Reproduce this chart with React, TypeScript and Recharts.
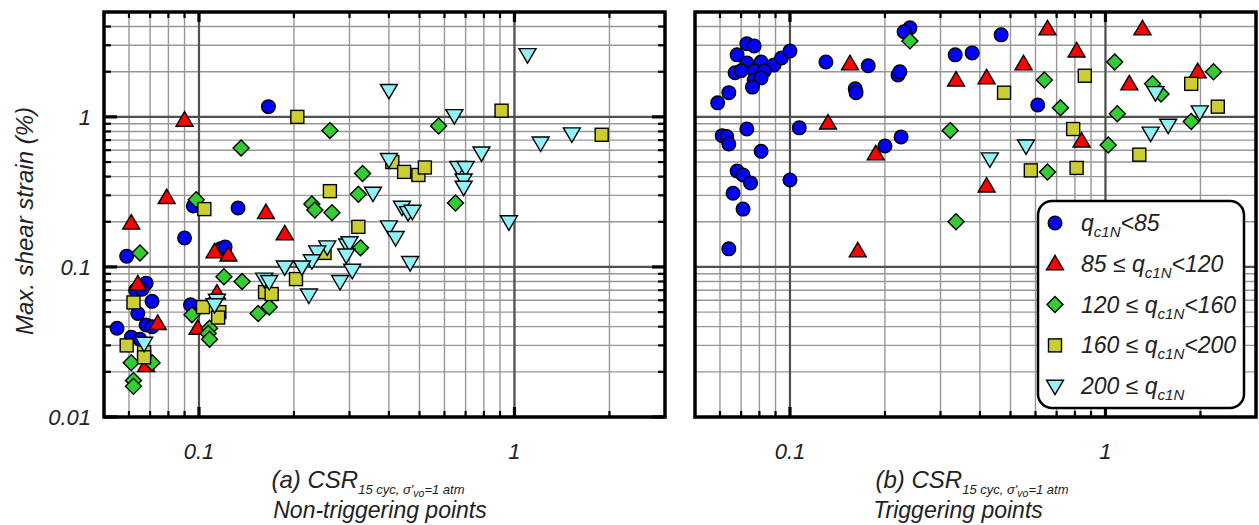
import React from "react";
import {
  CartesianGrid,
  ReferenceLine,
  Scatter,
  ScatterChart,
  XAxis,
  YAxis,
} from "recharts";

type Pair = [number, number];
type Kind = "circle" | "up" | "diamond" | "square" | "down";

// values: [CSR, max shear strain %]
// (a) non-triggering points
const blueNonTrig: Pair[] = [
  [0.166, 1.17], [0.096, 0.255], [0.133, 0.247], [0.09, 0.156], [0.059, 0.118],
  [0.117, 0.132], [0.121, 0.136], [0.068, 0.078], [0.063, 0.07], [0.066, 0.071],
  [0.071, 0.059], [0.064, 0.049], [0.055, 0.039], [0.068, 0.041], [0.071, 0.04],
  [0.061, 0.034], [0.065, 0.033], [0.094, 0.056],
];
const redNonTrig: Pair[] = [
  [0.09, 0.95], [0.079, 0.29], [0.163, 0.23], [0.187, 0.166], [0.061, 0.196],
  [0.112, 0.126], [0.124, 0.12], [0.064, 0.077], [0.074, 0.042], [0.068, 0.022],
  [0.114, 0.067], [0.099, 0.039],
];
const greenNonTrig: Pair[] = [
  [0.136, 0.62], [0.098, 0.28], [0.065, 0.124], [0.061, 0.023], [0.071, 0.023],
  [0.062, 0.0175], [0.062, 0.016], [0.12, 0.086], [0.137, 0.08], [0.095, 0.048],
  [0.108, 0.039], [0.107, 0.036], [0.108, 0.033], [0.167, 0.054], [0.154, 0.049],
  [0.26, 0.81], [0.575, 0.87], [0.33, 0.42], [0.32, 0.305], [0.228, 0.263],
  [0.233, 0.24], [0.264, 0.23], [0.325, 0.134], [0.65, 0.267],
];
const yellowNonTrig: Pair[] = [
  [0.205, 1.0], [0.104, 0.243], [0.062, 0.058], [0.059, 0.03], [0.067, 0.027],
  [0.067, 0.025], [0.103, 0.054], [0.116, 0.05], [0.115, 0.046], [0.162, 0.068],
  [0.17, 0.066], [0.203, 0.083], [0.41, 0.5], [0.447, 0.43], [0.496, 0.41],
  [0.52, 0.46], [0.26, 0.32], [0.32, 0.185], [0.25, 0.124], [0.91, 1.1],
  [1.89, 0.76],
];
const cyanNonTrig: Pair[] = [
  [0.067, 0.031], [0.114, 0.06], [0.112, 0.056], [0.161, 0.083], [0.167, 0.08],
  [0.4, 1.5], [0.645, 1.02], [0.786, 0.575], [0.4, 0.52], [0.664, 0.46],
  [0.7, 0.46], [0.69, 0.38], [0.69, 0.34], [0.356, 0.31], [0.44, 0.25],
  [0.46, 0.23], [0.475, 0.235], [0.4, 0.185], [0.42, 0.157], [0.467, 0.107],
  [0.295, 0.14], [0.3, 0.145], [0.293, 0.12], [0.306, 0.095], [0.28, 0.08],
  [0.255, 0.136], [0.237, 0.126], [0.228, 0.11], [0.212, 0.1], [0.187, 0.1],
  [0.223, 0.065], [1.1, 2.6], [1.21, 0.67], [1.52, 0.77], [0.96, 0.2],
];

// (b) triggering points
const blueTrig: Pair[] = [
  [0.073, 3.07], [0.077, 2.97], [0.068, 2.59], [0.073, 2.29], [0.081, 2.32],
  [0.089, 2.22], [0.094, 2.47], [0.1, 2.75], [0.067, 1.97], [0.07, 2.03],
  [0.077, 2.03], [0.083, 2.03], [0.077, 1.76], [0.081, 1.82], [0.076, 1.58],
  [0.064, 1.45], [0.059, 1.24], [0.13, 2.32], [0.177, 2.19], [0.161, 1.54],
  [0.162, 1.45], [0.22, 1.9], [0.223, 2.0], [0.24, 3.92], [0.23, 3.69],
  [0.467, 3.52], [0.334, 2.59], [0.378, 2.67], [0.61, 1.2], [0.073, 0.83],
  [0.107, 0.845], [0.061, 0.75], [0.063, 0.74], [0.064, 0.66], [0.081, 0.59],
  [0.068, 0.436], [0.071, 0.41], [0.075, 0.363], [0.1, 0.38], [0.066, 0.31],
  [0.071, 0.243], [0.064, 0.132], [0.2, 0.64], [0.225, 0.735],
];
const redTrig: Pair[] = [
  [0.155, 2.26], [0.132, 0.91], [0.187, 0.567], [0.164, 0.128], [0.655, 3.86],
  [1.31, 3.86], [0.81, 2.75], [0.55, 2.26], [0.336, 1.76], [0.42, 1.82],
  [1.19, 1.66], [1.96, 2.0], [0.84, 0.69], [0.42, 0.346],
];
const greenTrig: Pair[] = [
  [0.24, 3.21], [1.07, 2.32], [0.64, 1.76], [0.72, 1.15], [1.41, 1.66],
  [1.5, 1.42], [2.2, 2.0], [1.09, 1.05], [1.87, 0.93], [0.322, 0.81],
  [1.02, 0.65], [0.655, 0.43], [0.336, 0.2],
];
const yellowTrig: Pair[] = [
  [0.86, 1.88], [0.477, 1.45], [1.87, 1.66], [2.27, 1.17], [0.79, 0.83],
  [1.28, 0.56], [0.58, 0.44], [0.81, 0.457],
];
const cyanTrig: Pair[] = [
  [1.44, 1.45], [1.99, 1.08], [1.58, 0.88], [1.39, 0.78], [0.56, 0.64],
  [0.43, 0.525],
];

const xTicks = [0.06, 0.07, 0.08, 0.09, 0.1, 0.2, 0.3, 0.4, 0.5, 0.6, 0.7, 0.8, 0.9, 1, 2];
const yTicks = [
  0.01, 0.02, 0.03, 0.04, 0.05, 0.06, 0.07, 0.08, 0.09,
  0.1, 0.2, 0.3, 0.4, 0.5, 0.6, 0.7, 0.8, 0.9,
  1, 2, 3, 4,
];
const xDomain = [0.05, 3];
const yDomain = [0.01, 5];

const groups: { kind: Kind; fill: string; pre: string; post: string }[] = [
  { kind: "circle", fill: "#0000ff", pre: "", post: "<85" },
  { kind: "up", fill: "#ff0000", pre: "85 ≤ ", post: "<120" },
  { kind: "diamond", fill: "#33cc33", pre: "120 ≤ ", post: "<160" },
  { kind: "square", fill: "#cccc33", pre: "160 ≤ ", post: "<200" },
  { kind: "down", fill: "#8ef2f6", pre: "200 ≤ ", post: "" },
];

const nonTrig = [blueNonTrig, redNonTrig, greenNonTrig, yellowNonTrig, cyanNonTrig];
const trig = [blueTrig, redTrig, greenTrig, yellowTrig, cyanTrig];

const PLOT_W = 561;
const PLOT_H = 405;
const FONT = "'Liberation Sans', Arial, sans-serif";

const isMajor = (v: number) => Math.abs(Math.log10(v) - Math.round(Math.log10(v))) < 1e-6;

function Marker({ cx, cy, kind, fill }: { cx: number; cy: number; kind: Kind; fill: string }) {
  const st = { fill, stroke: "#000", strokeWidth: 1.4 };
  if (kind === "circle") return <circle cx={cx} cy={cy} r={6.8} {...st} />;
  if (kind === "up")
    return <polygon points={`${cx},${cy - 8.5} ${cx + 8.5},${cy + 6} ${cx - 8.5},${cy + 6}`} {...st} />;
  if (kind === "down")
    return <polygon points={`${cx},${cy + 8.5} ${cx + 8.5},${cy - 6} ${cx - 8.5},${cy - 6}`} {...st} />;
  if (kind === "diamond")
    return <polygon points={`${cx},${cy - 8} ${cx + 8},${cy} ${cx},${cy + 8} ${cx - 8},${cy}`} {...st} />;
  return <rect x={cx - 6.5} y={cy - 6.5} width={13} height={13} {...st} />;
}

// inward tick marks on bottom and top edges, label under major ticks
function XTick(props: any) {
  const { x, y, payload } = props;
  const v = payload.value;
  const major = isMajor(v);
  const len = major ? 10 : 6;
  const sw = major ? 3.2 : 2.2;
  return (
    <g>
      <line x1={x} y1={y} x2={x} y2={y - len} stroke="#000" strokeWidth={sw} />
      <line x1={x} y1={y - PLOT_H} x2={x} y2={y - PLOT_H + len} stroke="#000" strokeWidth={sw} />
      {major && (
        <text x={x} y={y + 42} textAnchor="middle" fontFamily={FONT} fontStyle="italic" fontSize={22} fill="#222">
          {String(v)}
        </text>
      )}
    </g>
  );
}

// inward tick marks on left and right edges
function YTick(props: any) {
  const { x, y, payload, showLabel } = props;
  const v = payload.value;
  const major = isMajor(v);
  const len = major ? 13 : 7;
  const sw = major ? 3.2 : 2.2;
  return (
    <g>
      <line x1={x} y1={y} x2={x + len} y2={y} stroke="#000" strokeWidth={sw} />
      <line x1={x + PLOT_W} y1={y} x2={x + PLOT_W - len} y2={y} stroke="#000" strokeWidth={sw} />
      {showLabel && major && (
        <text x={x - 13} y={y + 8} textAnchor="end" fontFamily={FONT} fontStyle="italic" fontSize={22} fill="#222">
          {String(v)}
        </text>
      )}
    </g>
  );
}

function Panel({
  sets,
  width,
  left,
  right,
  yWidth,
  showYLabels,
}: {
  sets: Pair[][];
  width: number;
  left: number;
  right: number;
  yWidth: number;
  showYLabels: boolean;
}) {
  return (
    <ScatterChart width={width} height={525} margin={{ top: 12, right, bottom: 0, left }}>
      <CartesianGrid stroke="#979797" strokeWidth={1.4} />
      <ReferenceLine x={0.1} stroke="#505050" strokeWidth={2.2} />
      <ReferenceLine x={1} stroke="#505050" strokeWidth={2.2} />
      <ReferenceLine y={0.1} stroke="#505050" strokeWidth={2.2} />
      <ReferenceLine y={1} stroke="#505050" strokeWidth={2.2} />
      <XAxis
        dataKey="x"
        type="number"
        scale="log"
        domain={xDomain}
        allowDataOverflow
        ticks={xTicks}
        interval={0}
        height={108}
        tickSize={0}
        tickMargin={0}
        axisLine={false}
        tickLine={false}
        tick={(p: any) => <XTick {...p} />}
      />
      <YAxis
        dataKey="y"
        type="number"
        scale="log"
        domain={yDomain}
        allowDataOverflow
        ticks={yTicks}
        interval={0}
        width={yWidth}
        tickSize={0}
        tickMargin={0}
        axisLine={false}
        tickLine={false}
        tick={(p: any) => <YTick {...p} showLabel={showYLabels} />}
      />
      {groups.map((g, i) => (
        <Scatter
          key={g.kind}
          data={sets[i].map(([x, y]) => ({ x, y }))}
          isAnimationActive={false}
          shape={(p: any) => <Marker cx={p.cx} cy={p.cy} kind={g.kind} fill={g.fill} />}
        />
      ))}
    </ScatterChart>
  );
}

function CsrTitle({ x, y, tag }: { x: number; y: number; tag: string }) {
  return (
    <text x={x} y={y} textAnchor="middle" fontFamily={FONT} fontStyle="italic" fill="#222">
      <tspan fontSize={24}>{tag} CSR</tspan>
      <tspan fontSize={13} dy={6}>15 cyc, σ'</tspan>
      <tspan fontSize={10.5} dy={2.5}>vo</tspan>
      <tspan fontSize={13} dy={-2.5}>=1 atm</tspan>
    </text>
  );
}

export default function App() {
  return (
    <div style={{ position: "absolute", left: 0, top: 0, width: 1259, height: 525, background: "#fff" }}>
      <div style={{ position: "absolute", left: 0, top: 0 }}>
        <Panel sets={nonTrig} width={680} left={0} right={15} yWidth={104} showYLabels />
      </div>
      <div style={{ position: "absolute", left: 680, top: 0 }}>
        <Panel sets={trig} width={579} left={15} right={3} yWidth={0} showYLabels={false} />
      </div>
      <svg
        width={1259}
        height={525}
        style={{ position: "absolute", left: 0, top: 0, pointerEvents: "none" }}
      >
        {/* panel frames */}
        <rect x={104} y={12} width={PLOT_W} height={PLOT_H} fill="none" stroke="#000" strokeWidth={3.5} />
        <rect x={695} y={12} width={PLOT_W} height={PLOT_H} fill="none" stroke="#000" strokeWidth={3.5} />

        <text
          transform="translate(33,221) rotate(-90)"
          textAnchor="middle"
          fontFamily={FONT}
          fontStyle="italic"
          fontSize={24}
          fill="#222"
        >
          Max. shear strain (%)
        </text>
        <CsrTitle x={368} y={488} tag="(a)" />
        <text x={380} y={518} textAnchor="middle" fontFamily={FONT} fontStyle="italic" fontSize={23} fill="#222">
          Non-triggering points
        </text>
        <CsrTitle x={972} y={488} tag="(b)" />
        <text x={958} y={518} textAnchor="middle" fontFamily={FONT} fontStyle="italic" fontSize={23} fill="#222">
          Triggering points
        </text>

        <rect x={1038} y={201} width={206} height={207} rx={14} ry={14} fill="#fff" stroke="#000" strokeWidth={2.5} />
        {groups.map((g, i) => {
          const cy = 223 + i * 40.8;
          return (
            <g key={g.kind}>
              <Marker cx={1055} cy={cy} kind={g.kind} fill={g.fill} />
              <text x={1081} y={cy + 8} fontFamily={FONT} fontStyle="italic" fontSize={23} fill="#222">
                <tspan>{g.pre}q</tspan>
                <tspan fontSize={15} dy={6}>c1N</tspan>
                <tspan dy={-6}>{g.post}</tspan>
              </text>
            </g>
          );
        })}
      </svg>
    </div>
  );
}
